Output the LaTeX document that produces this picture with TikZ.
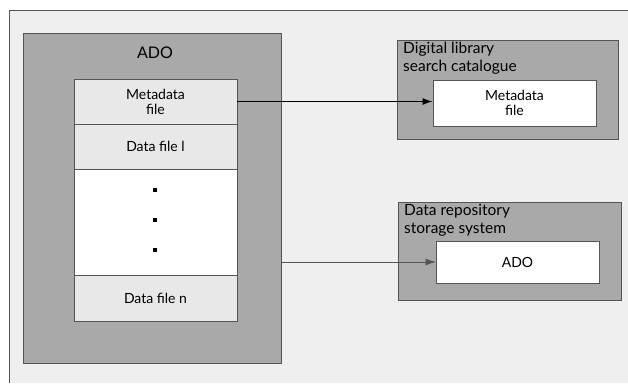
\documentclass[tikz,border=0pt]{standalone}
\usepackage{fontspec}
\setmainfont{Lato}
\usetikzlibrary{arrows.meta}
\definecolor{framebg}{HTML}{EFEFEF}
\definecolor{boxgray}{HTML}{A9A9A9}
\definecolor{cellgray}{HTML}{E8E8E8}
\definecolor{linegray}{HTML}{555555}
\tikzset{
  box/.style={draw=linegray, line width=0.8pt, rectangle, inner sep=0pt},
  outerbox/.style={box, fill=boxgray},
  cell/.style={box, fill=cellgray, align=center, font=\fontsize{14}{15}\selectfont},
  whitecell/.style={box, fill=white, align=center, font=\fontsize{14}{15}\selectfont},
  caption/.style={align=left, inner sep=0pt, font=\fontsize{15.5}{18}\selectfont},
  dot/.style={fill=black, inner sep=0pt, minimum size=3.5pt},
}
\begin{document}
\begin{tikzpicture}[x=1pt, y=-1pt]
			%%%%% FRAME %%%%%
			\useasboundingbox (0,0) rectangle (628,383);
			\fill[framebg] (9,10) rectangle (628,383);
			\draw[linegray, line width=0.8pt] (9,383) -- (9,10) -- (628,10);
			
			%%%%% ADO %%%%%
			\node[outerbox, minimum width=258pt, minimum height=330pt] (ado) at (152,198) {};
			\node[font=\fontsize{16}{17}\selectfont] (adotitle) at (155,53) {ADO};
			
			\node[cell, minimum width=163pt, minimum height=45pt] (meta) at (155.5,101.5) {Metadata\\file};
			\node[cell, minimum width=163pt, minimum height=45pt] (dataone) at (155.5,146.5) {Data file l};
			\node[whitecell, minimum width=163pt, minimum height=106pt] (gap) at (155.5,222) {};
			\node[cell, minimum width=163pt, minimum height=46pt] (datan) at (155.5,298) {Data file n};
			
			\node[dot] (dota) at (155,190) {};
			\node[dot] (dotb) at (155,220) {};
			\node[dot] (dotc) at (155,250) {};
			
			%%%%% CATALOGUE %%%%%
			\node[outerbox, minimum width=221pt, minimum height=99pt] (cat) at (507.5,89.5) {};
			\node[caption, anchor=north west] (cattext) at (403,42) {Digital library\\search catalogue};
			\node[whitecell, minimum width=163pt, minimum height=46pt] (catmeta) at (514.5,103) {Metadata\\file};
			
			%%%%% REPOSITORY %%%%%
			\node[outerbox, minimum width=223pt, minimum height=98pt] (repo) at (509.5,251) {};
			\node[caption, anchor=north west] (repotext) at (404,204) {Data repository\\storage system};
			\node[whitecell, minimum width=163pt, minimum height=42pt] (repoado) at (517.5,262) {ADO};
			
			%%%%% ARROWS %%%%%
			\draw[line width=1.3pt, -{Latex[length=10pt, width=7pt]}] (meta.east) -- (meta.east -| catmeta.west);
			\draw[line width=0.6pt, linegray, -{Latex[length=10pt, width=7pt]}] (ado.east |- repoado.west) -- (repoado.west);
			
			%%%%% END %%%%%
\end{tikzpicture}
\end{document}
